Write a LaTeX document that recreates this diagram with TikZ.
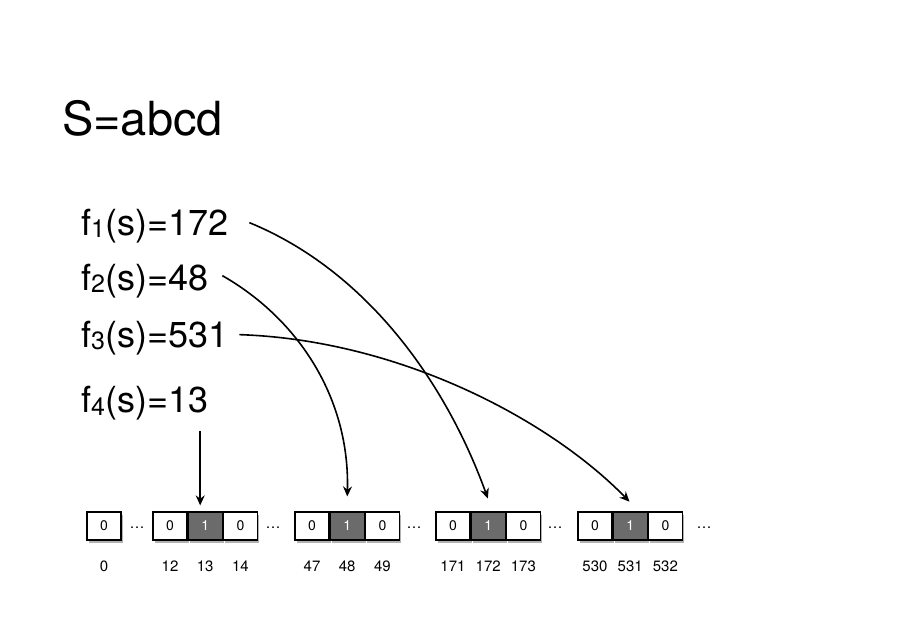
\documentclass[tikz,border=0pt]{standalone}
\usepackage{fontspec}
\setmainfont{TeX Gyre Heros}
\usetikzlibrary{positioning,shadows,arrows.meta}

\newcommand{\hsub}[1]{\raisebox{-2pt}{\fontsize{25}{25}\selectfont #1}}

\begin{document}
\begin{tikzpicture}[
    x=1pt, y=-1pt,
    cell/.style={rectangle, draw=black, fill=white, line width=1.2pt, minimum width=34pt, minimum height=28pt, inner sep=0pt, font=\fontsize{14}{14}\selectfont,
        drop shadow={shadow xshift=2pt, shadow yshift=-3pt, fill=black!30, opacity=1}},
    hit/.style={cell, fill=black!58, text=white},
    idx/.style={font=\fontsize{15}{15}\selectfont, inner sep=0pt},
    dots/.style={font=\fontsize{15}{15}\selectfont, inner sep=0pt},
    hash/.style={anchor=base west, inner sep=0pt, font=\fontsize{36}{36}\selectfont},
    arrow/.style={-{Stealth[length=10pt,width=9pt]}, line width=1.6pt, shorten >=1pt}
]
\useasboundingbox (0,0) rectangle (908,628);

% Input string
\node[anchor=base west, inner sep=0pt, font=\fontsize{47}{47}\selectfont] (str) at (62,136) {S=abcd};

% Hash values
\node[hash] (f1) at (81,236) {f\hsub{1}(s)=172};
\node[hash] (f2) at (81,291) {f\hsub{2}(s)=48};
\node[hash] (f3) at (81,348) {f\hsub{3}(s)=531};
\node[hash] (f4) at (81,413) {f\hsub{4}(s)=13};

% Bit array
\node[cell] (c0) at (104,526) {0};
\node[dots] (d1) at (137,528) {\dots};

\node[cell] (c12) at (170,526) {0};
\node[hit, right=0pt of c12] (c13) {1};
\node[cell, right=0pt of c13] (c14) {0};
\node[dots] (d2) at (273,528) {\dots};

\node[cell] (c47) at (312,526) {0};
\node[hit, right=0pt of c47] (c48) {1};
\node[cell, right=0pt of c48] (c49) {0};
\node[dots] (d3) at (414,528) {\dots};

\node[cell] (c171) at (453,526) {0};
\node[hit, right=0pt of c171] (c172) {1};
\node[cell, right=0pt of c172] (c173) {0};
\node[dots] (d4) at (555,528) {\dots};

\node[cell] (c530) at (595,526) {0};
\node[hit, right=0pt of c530] (c531) {1};
\node[cell, right=0pt of c531] (c532) {0};
\node[dots] (d5) at (704,528) {\dots};

% Indices
\node[idx, below=20pt of c0] (i0) {0};
\node[idx, below=20pt of c12] (i12) {12};
\node[idx, below=20pt of c13] (i13) {13};
\node[idx, below=20pt of c14] (i14) {14};
\node[idx, below=20pt of c47] (i47) {47};
\node[idx, below=20pt of c48] (i48) {48};
\node[idx, below=20pt of c49] (i49) {49};
\node[idx, below=20pt of c171] (i171) {171};
\node[idx, below=20pt of c172] (i172) {172};
\node[idx, below=20pt of c173] (i173) {173};
\node[idx, below=20pt of c530] (i530) {530};
\node[idx, below=20pt of c531] (i531) {531};
\node[idx, below=20pt of c532] (i532) {532};

% Arrows
\draw[arrow] ([xshift=21pt,yshift=4pt]f1.east) .. controls (365,270) and (445,380) .. ([yshift=12pt]c172.north);
\draw[arrow] ([xshift=14pt,yshift=6pt]f2.east) .. controls (300,320) and (350,400) .. ([yshift=14pt]c48.north);
\draw[arrow] ([xshift=11pt,yshift=4pt]f3.east) .. controls (400,340) and (550,420) .. ([yshift=9pt]c531.north);
\draw[arrow] ([xshift=-5pt,yshift=-10pt]f4.south -| c13) -- ([xshift=-5pt,yshift=5pt]c13.north);

\end{tikzpicture}
\end{document}
